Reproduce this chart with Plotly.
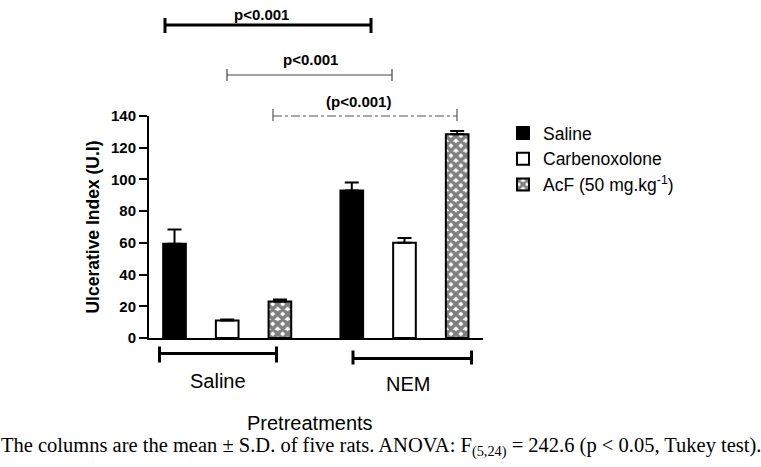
import plotly.graph_objects as go

# ---- data ----
pretreatments = ["Saline", "NEM"]
series_names = ["Saline", "Carbenoxolone", "AcF (50 mg.kg<sup>-1</sup>)"]
saline_mean = [59.5, 93.0]
saline_sd = [9.0, 5.0]
carb_mean = [11.0, 60.0]
carb_sd = [0.7, 3.0]
acf_mean = [23.0, 128.5]
acf_sd = [1.3, 2.0]
y_ticks = [0, 20, 40, 60, 80, 100, 120, 140]
sig_labels = ["p<0.001", "p<0.001", "(p<0.001)"]
caption = ("The columns are the mean ± S.D. of five rats. ANOVA: F<sub>(5,24)</sub> = 242.6 "
           "(p < 0.05, Tukey test).")

# ---- layout helpers ----
W, H = 761, 467
L, R, T, B = 149, 761 - 483, 116, 467 - 338
PW, PH = W - L - R, H - T - B
X0, X1 = -0.484, 5.854
GROUP_GAP = 3.364

def px2x(px):
    return X0 + (px - L) / PW * (X1 - X0)

def py2p(py):
    return (H - B - py) / PH

def pxp(px):
    return (px - L) / PW

SANS = "Liberation Sans, Arial, sans-serif"
SERIF = "Liberation Serif, Times New Roman, serif"

means = [saline_mean, carb_mean, acf_mean]
sds = [saline_sd, carb_sd, acf_sd]
styles = [
    dict(color="black", line=dict(color="black", width=2)),
    dict(color="white", line=dict(color="black", width=2)),
    dict(color="white", line=dict(color="black", width=2),
         pattern=dict(shape="x", fgcolor="black", bgcolor="white", size=7, solidity=0.75)),
]

fig = go.Figure()
for i, name in enumerate(series_names):
    xs = [g * GROUP_GAP + i for g in range(len(pretreatments))]
    fig.add_trace(go.Bar(
        x=xs, y=means[i], name=name, width=0.43, legendgroup=f"g{i}",
        marker=styles[i],
        error_y=dict(type="data", array=sds[i], arrayminus=[0] * len(sds[i]),
                     symmetric=False, color="black", thickness=2, width=7),
        cliponaxis=False,
    ))

shapes = []
annotations = []

def bracket(px_a, px_b, py, h_up, h_dn, width, color, dash="solid"):
    xa, xb = px2x(px_a), px2x(px_b)
    shapes.append(dict(type="line", xref="x", yref="paper", x0=xa, x1=xb,
                       y0=py2p(py), y1=py2p(py), line=dict(color=color, width=width, dash=dash)))
    for xx in (xa, xb):
        shapes.append(dict(type="line", xref="x", yref="paper", x0=xx, x1=xx,
                           y0=py2p(py - h_up), y1=py2p(py + h_dn),
                           line=dict(color=color, width=width if width > 1.5 else 1.2)))

# significance brackets (top)
bracket(165, 371, 25, 7, 8, 3, "black")
bracket(227, 392, 75, 6, 6, 1.2, "#444444")
bracket(273, 457, 116, 7, 5, 1.2, "#555555", dash="dashdot")
sig_pos = [(261, 14), (310, 60), (358, 101)]
for lab, (px, py) in zip(sig_labels, sig_pos):
    annotations.append(dict(text=lab, x=pxp(px), y=py2p(py), xref="paper", yref="paper",
                            showarrow=False, xanchor="center", yanchor="middle",
                            font=dict(family=SANS, size=15, color="black", weight="bold")))

# group brackets (bottom)
bracket(159.5, 276.5, 353.5, 7, 9, 3, "black")
bracket(353, 471.5, 358.5, 8, 6, 3, "black")
grp_pos = [(218, 381), (408, 384)]
for lab, (px, py) in zip(pretreatments, grp_pos):
    annotations.append(dict(text=lab, x=pxp(px), y=py2p(py), xref="paper", yref="paper",
                            showarrow=False, xanchor="center", yanchor="middle",
                            font=dict(family=SANS, size=20, color="black")))

annotations.append(dict(text="Pretreatments", x=pxp(310), y=py2p(423), xref="paper", yref="paper",
                        showarrow=False, xanchor="center", yanchor="middle",
                        font=dict(family=SANS, size=20, color="black")))
annotations.append(dict(text=caption, x=pxp(381), y=py2p(447), xref="paper", yref="paper",
                        showarrow=False, xanchor="center", yanchor="middle",
                        font=dict(family=SERIF, size=20.5, color="black")))

fig.update_layout(
    width=W, height=H,
    margin=dict(l=L, r=R, t=T, b=B, pad=0),
    paper_bgcolor="white", plot_bgcolor="white",
    barmode="overlay",
    showlegend=True,
    legend=dict(x=pxp(503), y=py2p(115), xanchor="left", yanchor="top",
                font=dict(family=SANS, size=17.5, color="black"),
                tracegroupgap=0, itemwidth=30, bgcolor="rgba(0,0,0,0)"),
    xaxis=dict(range=[X0, X1], showgrid=False, zeroline=False, showticklabels=False,
               ticks="", showline=True, linecolor="black", linewidth=2, fixedrange=True),
    yaxis=dict(range=[0, 140], tickvals=y_ticks, showgrid=False, zeroline=False,
               showline=True, linecolor="black", linewidth=2,
               ticks="outside", ticklen=8, tickwidth=2, tickcolor="black",
               tickfont=dict(family=SANS, size=15, color="black", weight="bold"),
               title=dict(text="Ulcerative Index (U.I)", standoff=7,
                          font=dict(family=SANS, size=17.5, color="black", weight="bold"))),
    shapes=shapes,
    annotations=annotations,
)

fig.write_html("out.html", post_script="document.body.style.margin='0';",
               config={"displayModeBar": False})
